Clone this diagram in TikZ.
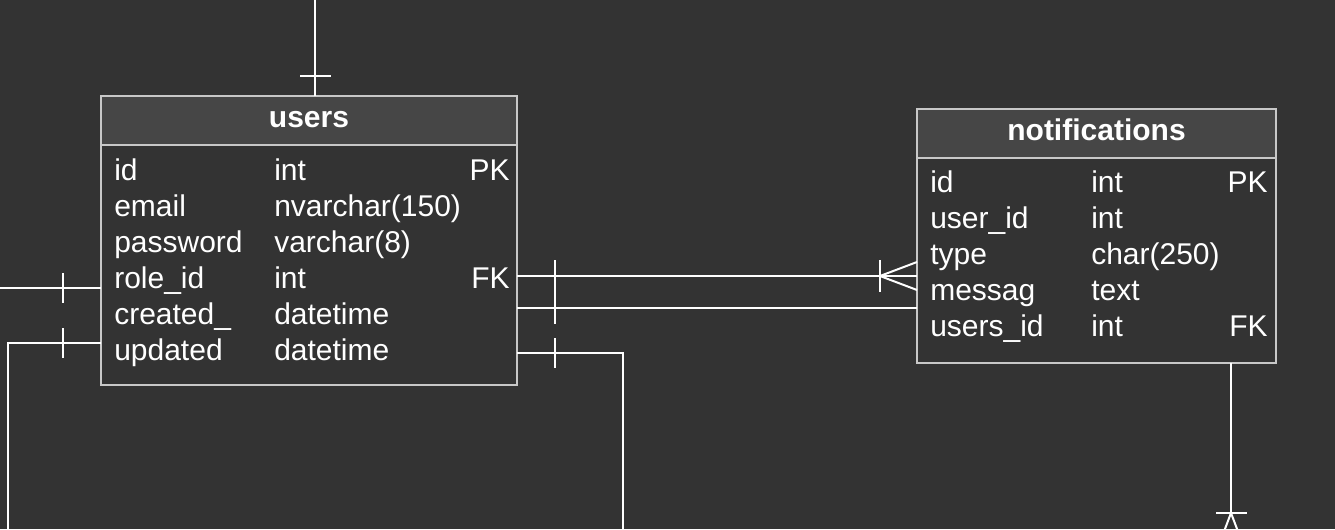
\documentclass[tikz,border=0pt]{standalone}
\usepackage{fontspec}
\setmainfont{Liberation Sans}
\usetikzlibrary{positioning}
\definecolor{canvasbg}{RGB}{51,51,51}
\definecolor{headfill}{RGB}{70,70,70}
\definecolor{tblborder}{RGB}{200,200,200}

\tikzset{
    tblhead/.style={draw=tblborder, fill=headfill, line width=1.5pt, outer sep=0pt, inner sep=0pt, minimum height=36.75pt},
    tblbody/.style={draw=tblborder, fill=canvasbg, line width=1.5pt, outer sep=0pt, inner sep=0pt},
    tbltitle/.style={text=white, font=\fontsize{22.5}{27}\selectfont\bfseries, inner sep=0pt, anchor=base},
    fieldtxt/.style={text=white, font=\fontsize{22.5}{27}\selectfont, inner sep=0pt, anchor=base west},
    keytxt/.style={text=white, font=\fontsize{22.5}{27}\selectfont, inner sep=0pt, anchor=base east},
    rel/.style={draw=white, line width=1.5pt}
}

\begin{document}
\begin{tikzpicture}[x=0.75pt, y=-0.75pt]
    % canvas
    \fill[canvasbg] (0,0) rectangle (1335,529);
    \useasboundingbox (0,0) rectangle (1335,529);
    \clip (0,0) rectangle (1335,529);

    % users table
    \node[tblhead, minimum width=312pt, anchor=north west] (usershead) at (101,96) {};
    \node[tblbody, minimum width=312pt, minimum height=180pt, below=0pt of usershead] (usersbody) {};
    \node[tbltitle] (userstitle) at (309,127) {users};
    \foreach \fname/\ftype/\fkey [count=\i from 0] in {id/int/PK, email/nvarchar(150)/, password/varchar(8)/, role\_id/int/FK, created\_/datetime/, updated/datetime/} {
        \node[fieldtxt] (u-name-\i) at (114,180+36*\i) {\fname};
        \node[fieldtxt] (u-type-\i) at (274,180+36*\i) {\ftype};
        \node[keytxt] (u-key-\i) at (510,180+36*\i) {\fkey};
    }

    % notifications table
    \node[tblhead, minimum width=269.25pt, anchor=north west] (notifhead) at (917,109) {};
    \node[tblbody, minimum width=269.25pt, minimum height=153.75pt, below=0pt of notifhead] (notifbody) {};
    \node[tbltitle] (notiftitle) at (1096.5,140) {notifications};
    \foreach \fname/\ftype/\fkey [count=\i from 0] in {id/int/PK, user\_id/int/, type/char(250)/, messag/text/, users\_id/int/FK} {
        \node[fieldtxt] (n-name-\i) at (930,192+36*\i) {\fname};
        \node[fieldtxt] (n-type-\i) at (1091,192+36*\i) {\ftype};
        \node[keytxt] (n-key-\i) at (1268,192+36*\i) {\fkey};
    }

    % free ends
    \coordinate (topend) at (315,0);
    \coordinate (roleend) at (0,288);
    \coordinate (updbend) at (8,529);
    \coordinate (updcorner) at (8,343);
    \coordinate (rightcorner) at (623,353);
    \coordinate (rightend) at (623,529);
    \coordinate (notifend) at (1231,560);

    % top relation
    \draw[rel] (topend) -- (usershead.north -| topend);
    \draw[rel] (300,76) -- (331,76);

    % left relations
    \draw[rel] (roleend) -- (usersbody.west |- roleend);
    \draw[rel] (63,273) -- (63,303);
    \draw[rel] (updbend) -- (updcorner) -- (usersbody.west |- updcorner);
    \draw[rel] (63,328) -- (63,358);

    % users -> notifications
    \draw[rel] (usersbody.east |- 0,276) -- (notifbody.west |- 0,276);
    \draw[rel] (555,260) -- (555,292);
    \draw[rel] (880,260) -- (880,292);
    \draw[rel] (880,276) -- (notifbody.west |- 0,262);
    \draw[rel] (880,276) -- (notifbody.west |- 0,290);
    \draw[rel] (usersbody.east |- 0,308) -- (notifbody.west |- 0,308);
    \draw[rel] (555,292) -- (555,324);

    % right lower relation
    \draw[rel] (usersbody.east |- rightcorner) -- (rightcorner) -- (rightend);
    \draw[rel] (555,338) -- (555,368);

    % notifications down
    \draw[rel] (notifbody.south -| notifend) -- (1231,513);
    \draw[rel] (1216,513) -- (1247,513);
    \draw[rel] (1231,513) -- (1217,550);
    \draw[rel] (1231,513) -- (1245,550);
\end{tikzpicture}
\end{document}
